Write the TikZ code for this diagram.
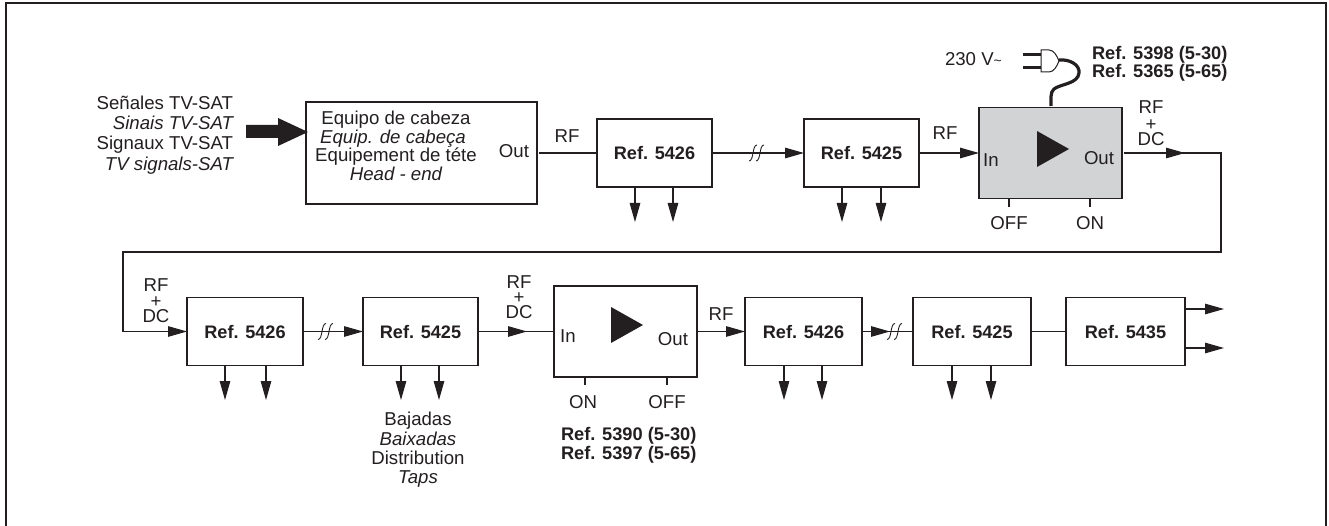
\documentclass[tikz,border=0pt]{standalone}
\usepackage{fontspec}
\setmainfont{Liberation Sans}
\usetikzlibrary{arrows.meta,decorations.markings}
\definecolor{ink}{HTML}{231F20}
\definecolor{ampgray}{HTML}{D1D3D4}
\tikzset{
  x=1bp,y=-1bp,
  every node/.style={text=ink,font=\fontsize{18.7}{20}\selectfont,inner sep=0pt,outer sep=0pt,align=center},
  blockbox/.style={draw=ink,line width=1.1bp,fill=white,minimum width=#1,minimum height=68bp,text height=13bp,text depth=0pt,font=\fontsize{18.2}{20}\selectfont\bfseries},
  ampbox/.style={draw=ink,line width=1.1bp,minimum width=143bp,minimum height=91bp},
  wire/.style={draw=ink,line width=1.1bp},
  tipped/.style={wire,-{Triangle[length=19bp,width=10.5bp,fill=ink]}},
  midtip/.style={wire,postaction={decorate},decoration={markings,mark=at position #1 with {\arrow{Triangle[length=19bp,width=10.5bp,fill=ink]}}}},
  breakmark/.style={draw=ink,line width=0.9bp},
  txt/.style={anchor=center,text height=13bp,text depth=0pt},
  plustxt/.style={anchor=center,text height=9bp,text depth=0pt},
  lefttxt/.style={anchor=west,text height=13bp,text depth=0pt},
  righttxt/.style={anchor=east,text height=13bp,text depth=0pt},
  reftxt/.style={lefttxt,font=\fontsize{18.3}{18}\selectfont\bfseries},
  solidtri/.style={fill=ink,draw=none},
}
\newcommand{\wirebreak}[2]{%
  \draw[breakmark] (#1-6,#2+8) .. controls (#1-1,#2+8) and (#1-3,#2-8) .. (#1+2,#2-8);
  \draw[breakmark] (#1+1,#2+8) .. controls (#1+6,#2+8) and (#1+4,#2-8) .. (#1+9,#2-8);}
\begin{document}
\begin{tikzpicture}
\useasboundingbox (0,0) rectangle (1329,526);
% frame
\draw[ink,line width=2.6bp] (6,526) -- (6,3) -- (1326,3) -- (1326,526);

% first row
\node[draw=ink,line width=1.1bp,minimum width=231bp,minimum height=102bp] (head) at (421.5,153) {};
\node[blockbox=115bp] (a1) at (654.5,153) {Ref. 5426};
\node[blockbox=115bp] (a2) at (861.5,153) {Ref. 5425};
\node[ampbox,fill=ampgray] (amp1) at (1050.5,153) {};

% second row
\node[blockbox=116bp] (b1) at (245,331.5) {Ref. 5426};
\node[blockbox=115bp] (b2) at (420.5,331.5) {Ref. 5425};
\node[ampbox] (amp2) at (625.5,331.5) {};
\node[blockbox=117bp] (b3) at (803.5,331.5) {Ref. 5426};
\node[blockbox=118bp] (b4) at (972,331.5) {Ref. 5425};
\node[blockbox=119bp] (b5) at (1125.5,331.5) {Ref. 5435};

% source text and big arrow
\node[righttxt] (s1) at (233,103) {Señales TV-SAT};
\node[righttxt] (s2) at (233,123) {\itshape Sinais TV-SAT};
\node[righttxt] (s3) at (233,143) {Signaux TV-SAT};
\node[righttxt] (s4) at (233,164) {\itshape TV signals-SAT};
\fill[solidtri] (246,125) -- (278,125) -- (278,118) -- (308,132) -- (278,146) -- (278,138) -- (246,138) -- cycle;

% head-end text
\node[txt] (h1) at (396,118) {Equipo de cabeza};
\node[txt] (h2) at (393,137) {\itshape Equip. de cabeça};
\node[txt] (h3) at (396,155) {Equipement de téte};
\node[txt] (h4) at (396,174) {\itshape Head - end};
\node[txt] (hout) at (514,151) {Out};

% connectors first row
\draw[wire,shorten <=2bp] (head.east) -- (a1.west);
\node[txt] (rf1) at (567,136) {RF};
\draw[tipped] (a1.east) -- (a2.west);
\wirebreak{755}{153}
\draw[tipped] (a2.east) -- (amp1.west);
\node[txt] (rf2) at (945,133) {RF};

% down arrows
\foreach \bx/\px/\qx in {a1/635/673,a2/842/881}{
  \coordinate (e1) at (\px,222); \coordinate (e2) at (\qx,222);
  \draw[tipped] (\bx.south -| e1) -- (e1);
  \draw[tipped] (\bx.south -| e2) -- (e2);
}
\foreach \bx/\px/\qx in {b1/225/266,b2/401/439,b3/784/822,b4/952/991}{
  \coordinate (e1) at (\px,400); \coordinate (e2) at (\qx,400);
  \draw[tipped] (\bx.south -| e1) -- (e1);
  \draw[tipped] (\bx.south -| e2) -- (e2);
}

% amp 1
\fill[solidtri] (1037,131) -- (1069,149) -- (1037,167) -- cycle;
\node[txt] (in1) at (991,160) {In};
\node[txt] (out1) at (1099,158) {Out};
\coordinate (t1a) at (1009,207); \coordinate (t1b) at (1090,207);
\draw[wire] (amp1.south -| t1a) -- (t1a);
\draw[wire] (amp1.south -| t1b) -- (t1b);
\node[txt] (off1) at (1009,223) {OFF};
\node[txt] (on1) at (1090,223) {ON};
\node[lefttxt] (v230) at (945,59) {230 V{\fontsize{14}{14}\selectfont\textasciitilde}};
\node[reftxt] (r1) at (1092,53) {Ref. 5398 (5-30)};
\node[reftxt] (r2) at (1092,71) {Ref. 5365 (5-65)};

% plug
\draw[ink,line width=3bp] (1023,55) -- (1041,55) (1023,68) -- (1041,68);
\draw[ink,line width=1bp,fill=white] (1041,50) -- (1049,50) .. controls (1054,50) and (1057,56) .. (1059,61) .. controls (1057,66) and (1054,72) .. (1049,72) -- (1041,72) -- cycle;
\draw[ink,line width=3.2bp] (1059,60) .. controls (1070,59) and (1080,65) .. (1079,73) .. controls (1078,84) and (1060,84) .. (1054,89) .. controls (1050,92) and (1051,100) .. (1051,106);

% RF+DC from amp1 to b1
\coordinate (c1) at (1221,252); \coordinate (c2) at (123,252);
\draw[midtip=63bp,tipped,shorten <=2bp] (amp1.east) -- (c1 |- amp1.east) -- (c1) -- (c2) -- (c2 |- b1.west) -- (b1.west);
\node[txt] (rd1) at (1151,107) {RF};
\node[plustxt] (rd2) at (1151,126) {+};
\node[txt] (rd3) at (1151,139) {DC};
\node[txt] (re1) at (156,285) {RF};
\node[plustxt] (re2) at (156,303) {+};
\node[txt] (re3) at (156,316) {DC};

% second row connectors
\draw[tipped] (b1.east) -- (b2.west);
\wirebreak{324}{331.5}
\draw[midtip=49bp] (b2.east) -- (amp2.west);
\node[txt] (rg1) at (519,282) {RF};
\node[plustxt] (rg2) at (519,299) {+};
\node[txt] (rg3) at (519,312) {DC};

% amp 2
\fill[solidtri] (611,307) -- (643,325) -- (611,343) -- cycle;
\node[txt] (in2) at (568,336) {In};
\node[txt] (out2) at (673,339) {Out};
\coordinate (t2a) at (585,385); \coordinate (t2b) at (667,385);
\draw[wire] (amp2.south -| t2a) -- (t2a);
\draw[wire] (amp2.south -| t2b) -- (t2b);
\node[txt] (on2) at (583,402) {ON};
\node[txt] (off2) at (667,402) {OFF};
\node[reftxt] (r3) at (561,434) {Ref. 5390 (5-30)};
\node[reftxt] (r4) at (561,453) {Ref. 5397 (5-65)};
\draw[tipped,shorten <=1bp] (amp2.east) -- (b3.west);
\node[txt] (rf3) at (721,314) {RF};

\draw[midtip=28bp,shorten <=1bp] (b3.east) -- (b4.west);
\wirebreak{893}{331.5}
\draw[wire] (b4.east) -- (b5.west);

\coordinate (o1) at (1224,309); \coordinate (o2) at (1224,348);
\draw[tipped] (b5.east |- o1) -- (o1);
\draw[tipped] (b5.east |- o2) -- (o2);

% taps text
\node[txt] (t1) at (418,419) {Bajadas};
\node[txt] (t2) at (418,439) {\itshape Baixadas};
\node[txt] (t3) at (418,458) {Distribution};
\node[txt] (t4) at (418,477) {\itshape Taps};
\end{tikzpicture}
\end{document}
